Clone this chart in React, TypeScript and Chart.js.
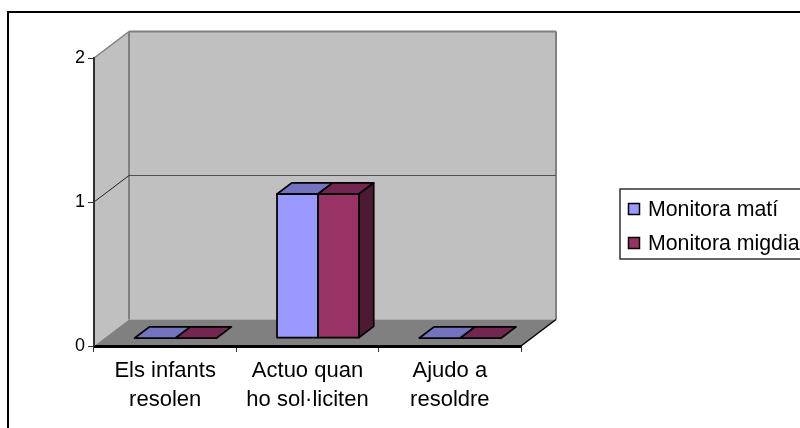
import React, { useEffect, useRef } from "react";
import { Chart, registerables } from "chart.js";

Chart.register(...registerables);

const categories = [["Els infants", "resolen"], ["Actuo quan", "ho sol·liciten"], ["Ajudo a", "resoldre"]];
const monitoraMati = [0, 1, 0];
const monitoraMigdia = [0, 1, 0];
const yTicks = [0, 1, 2];
const FONT = "'Liberation Sans', Arial, sans-serif";

const DX = 35;
const DY = -26.5;
const FRONT = 0.3;
const BACK = 0.72;

const fills = [
  { top: "#7373bf", side: "#5c5c99" },
  { top: "#732650", side: "#4d1933" },
];

function poly(ctx: CanvasRenderingContext2D, pts: number[][], fill?: string, stroke?: string, lw = 1) {
  ctx.beginPath();
  pts.forEach((p, i) => (i ? ctx.lineTo(p[0], p[1]) : ctx.moveTo(p[0], p[1])));
  ctx.closePath();
  if (fill) {
    ctx.fillStyle = fill;
    ctx.fill();
  }
  if (stroke) {
    ctx.strokeStyle = stroke;
    ctx.lineWidth = lw;
    ctx.lineJoin = "round";
    ctx.stroke();
  }
}

function line(ctx: CanvasRenderingContext2D, x1: number, y1: number, x2: number, y2: number, c: string, lw: number) {
  ctx.beginPath();
  ctx.moveTo(x1, y1);
  ctx.lineTo(x2, y2);
  ctx.strokeStyle = c;
  ctx.lineWidth = lw;
  ctx.stroke();
}

const scene = {
  id: "scene3d",
  beforeDraw(chart: any) {
    const { ctx } = chart;
    const { x, y } = chart.scales;
    const l = x.left;
    const r = x.right;
    const t = y.getPixelForValue(2);
    const b = y.getPixelForValue(0);
    ctx.save();
    ctx.fillStyle = "#fff";
    ctx.fillRect(0, 0, chart.width, chart.height);
    // outer frame (runs off the right and bottom of the picture)
    ctx.strokeStyle = "#000";
    ctx.lineWidth = 2;
    ctx.strokeRect(8, 12, 900, 600);
    // walls
    poly(ctx, [[l + DX, t + DY], [r + DX, t + DY], [r + DX, b + DY], [l + DX, b + DY]], "#c0c0c0");
    poly(ctx, [[l, t], [l + DX, t + DY], [l + DX, b + DY], [l, b]], "#c0c0c0");
    poly(ctx, [[l, b], [l + DX, b + DY], [r + DX, b + DY], [r, b]], "#808080");
    // wall edges
    line(ctx, l + DX, t + DY, l + DX, b + DY, "#808080", 2);
    line(ctx, l + DX, t + DY, r + DX, t + DY, "#808080", 2);
    line(ctx, r + DX, t + DY, r + DX, b + DY, "#808080", 2);
    line(ctx, l, t, l + DX, t + DY, "#808080", 1.5);
    // gridlines
    yTicks.slice(1, -1).forEach((v) => {
      const p = y.getPixelForValue(v);
      line(ctx, l, p, l + DX, p + DY, "#222", 1);
      line(ctx, l + DX, p + DY, r + DX, p + DY, "#505050", 1);
    });
    line(ctx, r, b, r + DX, b + DY, "#000", 1.5);
    ctx.restore();
  },
  beforeDatasetsDraw(chart: any) {
    const { ctx } = chart;
    const { x, y } = chart.scales;
    const b = y.getPixelForValue(0);
    line(ctx, x.left, y.getPixelForValue(2), x.left, b + 1, "#303030", 2);
    line(ctx, x.left, b + 1, x.right, b + 1, "#000", 2);
    ctx.save();
    ctx.translate(DX * FRONT, DY * FRONT);
  },
  afterDatasetsDraw(chart: any) {
    const { ctx } = chart;
    ctx.restore();
    ctx.save();
    const ddx = DX * (BACK - FRONT);
    const ddy = DY * (BACK - FRONT);
    chart.data.datasets.forEach((_: any, di: number) => {
      chart.getDatasetMeta(di).data.forEach((el: any) => {
        const { x, y, width, base: rawBase } = el.getProps(["x", "y", "width", "base"], true);
        const xl = x - width / 2 + DX * FRONT;
        const xr = x + width / 2 + DX * FRONT;
        const yt = y + DY * FRONT;
        const base = rawBase + DY * FRONT;
        poly(ctx, [[xl, yt], [xl + ddx, yt + ddy], [xr + ddx, yt + ddy], [xr, yt]], fills[di].top, "#000", 1.75);
        if (base - yt > 0.5) {
          poly(ctx, [[xl, yt], [xr, yt], [xr, base], [xl, base]], undefined, "#000", 1.75);
          if (di === chart.data.datasets.length - 1) {
            poly(ctx, [[xr, yt], [xr + ddx, yt + ddy], [xr + ddx, base + ddy], [xr, base]], fills[di].side, "#000", 1.75);
          }
        }
      });
    });
    ctx.restore();
  },
  afterDraw(chart: any) {
    const { ctx } = chart;
    ctx.save();
    // legend box, drawn from the datasets
    ctx.strokeStyle = "#333";
    ctx.lineWidth = 1.5;
    ctx.strokeRect(620, 189, 300, 70);
    ctx.font = `21.3px ${FONT}`;
    ctx.textBaseline = "alphabetic";
    chart.data.datasets.forEach((ds: any, i: number) => {
      const cy = 209 + i * 34;
      ctx.fillStyle = ds.backgroundColor;
      ctx.fillRect(628.5, cy - 5.5, 11, 11);
      ctx.strokeStyle = "#000";
      ctx.lineWidth = 1.5;
      ctx.strokeRect(628.5, cy - 5.5, 11, 11);
      ctx.fillStyle = "#000";
      ctx.fillText(ds.label, 648, cy + 6.5);
    });
    ctx.restore();
  },
};

export default function App() {
  const ref = useRef<HTMLCanvasElement>(null);
  useEffect(() => {
    const chart = new Chart(ref.current as HTMLCanvasElement, {
      type: "bar",
      data: {
        labels: categories as any,
        datasets: [
          { label: "Monitora matí", data: monitoraMati, backgroundColor: "#9999ff", borderWidth: 0 },
          { label: "Monitora migdia", data: monitoraMigdia, backgroundColor: "#993366", borderWidth: 0 },
        ],
      },
      options: {
        animation: false,
        responsive: false,
        devicePixelRatio: 1,
        layout: { padding: { top: 58, right: 279, left: 0, bottom: 0 } },
        plugins: { legend: { display: false }, title: { display: false }, tooltip: { enabled: false } },
        datasets: { bar: { categoryPercentage: 0.576, barPercentage: 1, clip: false as any } },
        scales: {
          x: {
            grid: { drawOnChartArea: false, drawTicks: true, tickLength: 6, color: "#333" },
            border: { color: "#000", width: 2 },
            ticks: {
              font: { family: FONT, size: 22, lineHeight: 1.32 },
              color: "#000",
              padding: 4,
              maxRotation: 0,
              autoSkip: false,
            },
            afterFit: (s: any) => {
              s.height = 82;
            },
          },
          y: {
            min: 0,
            max: 2,
            grid: { drawOnChartArea: false, drawTicks: true, tickLength: 6, color: "#333" },
            border: { color: "#303030", width: 2 },
            ticks: {
              stepSize: 1,
              font: { family: FONT, size: 18 },
              color: "#000",
              padding: 3,
              callback: (v: any) => (yTicks.includes(v) ? String(v) : ""),
            },
            afterFit: (s: any) => {
              s.width = 94;
            },
          },
        },
      },
      plugins: [scene],
    } as any);
    return () => chart.destroy();
  }, []);
  return (
    <div style={{ position: "absolute", left: 0, top: 0, width: 800, height: 428, overflow: "hidden" }}>
      <canvas ref={ref} width={800} height={428} style={{ display: "block" }} />
    </div>
  );
}
